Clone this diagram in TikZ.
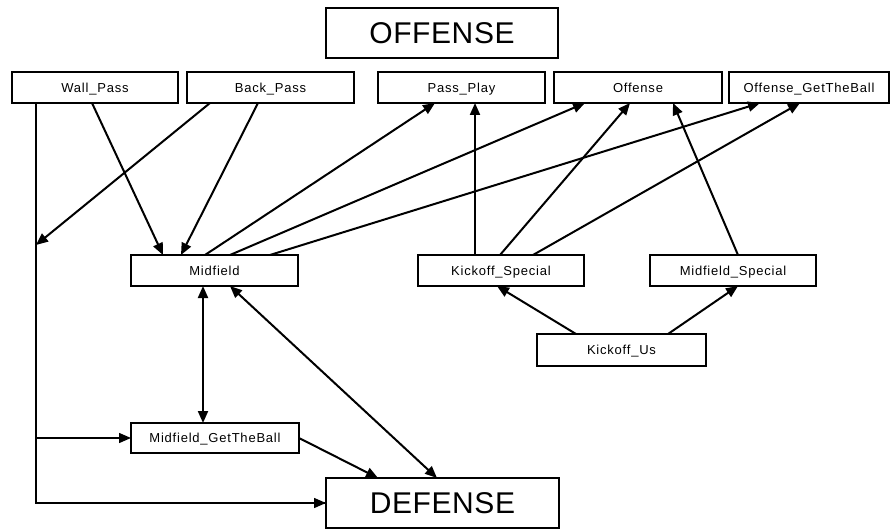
\documentclass[tikz,border=0pt]{standalone}
\usepackage{fontspec}
\setmainfont{Liberation Sans}
\newfontfamily\smallbox[LetterSpace=6]{Liberation Sans}
\newfontfamily\bigbox[LetterSpace=2]{Liberation Sans}
\usetikzlibrary{arrows.meta}
\begin{document}
\begin{tikzpicture}[x=1pt,y=-1pt,
  sbox/.style={draw,line width=2.6pt,inner sep=0pt,outer sep=0pt,text height=9.3pt,text depth=0pt,font=\smallbox\fontsize{13}{15}\selectfont},
  bbox/.style={draw,line width=2pt,inner sep=0pt,outer sep=0pt,text height=21.5pt,text depth=0pt,font=\bigbox\fontsize{30}{33}\selectfont},
  arr/.style={line width=2pt,-{Triangle[length=12pt,width=10pt]}},
  darr/.style={line width=2pt,{Triangle[length=12pt,width=10pt]}-{Triangle[length=12pt,width=10pt]}},
  thin/.style={line width=1.4pt},
  tarr/.style={line width=1.4pt,-{Triangle[length=12pt,width=10pt]}}
]
\useasboundingbox (0,0) rectangle (891,529);
% boxes: given by corners
\newcommand{\bx}[7]{\node[#1,minimum width={#5-#3},minimum height={#6-#4}] (#2) at ({(#3+#5)/2},{(#4+#6)/2}) {#7};}
\bx{bbox}{off}{326}{8}{558}{58}{OFFENSE}
\bx{sbox}{wp}{12}{72}{178}{103}{Wall\_Pass}
\bx{sbox}{bp}{187}{72}{354}{103}{Back\_Pass}
\bx{sbox}{pp}{378}{72}{545}{103}{Pass\_Play}
\bx{sbox}{o}{554}{72}{722}{103}{Offense}
\bx{sbox}{ogb}{729}{72}{889}{103}{Offense\_GetTheBall}
\bx{sbox}{mid}{131}{255}{298}{286}{Midfield}
\bx{sbox}{ks}{418}{255}{584}{286}{Kickoff\_Special}
\bx{sbox}{ms}{650}{255}{816}{286}{Midfield\_Special}
\bx{sbox}{ku}{537}{334}{706}{366}{Kickoff\_Us}
\bx{sbox}{mgb}{131}{423}{299}{453}{Midfield\_GetTheBall}
\bx{bbox}{def}{326}{478}{559}{528}{DEFENSE}

% Wall_Pass trunk
\coordinate (vl) at ([xshift=24pt]wp.south west);
\coordinate (bpEnd) at (36,245);
\draw[thin] (vl) |- (def.west);
\draw[tarr] (vl |- def.west) -- (def.west);
\draw[tarr] (vl |- mgb.west) -- (mgb.west);

\draw[arr] ([xshift=80pt]wp.south west) -- ([xshift=32pt]mid.north west);
\draw[arr] ([xshift=23pt]bp.south west) -- (bpEnd);
\draw[arr] ([xshift=71pt]bp.south west) -- ([xshift=50pt]mid.north west);
\draw[arr] ([xshift=74pt]mid.north west) -- ([xshift=57pt]pp.south west);
\draw[arr] ([xshift=99pt]mid.north west) -- ([xshift=31pt]o.south west);
\draw[arr] ([xshift=139pt]mid.north west) -- ([xshift=31pt]ogb.south west);
\draw[arr] ([xshift=57pt]ks.north west) -- ([xshift=97pt]pp.south west);
\draw[arr] ([xshift=82pt]ks.north west) -- ([xshift=76pt]o.south west);
\draw[arr] ([xshift=115pt]ks.north west) -- ([xshift=71pt]ogb.south west);
\draw[arr] ([xshift=88pt]ms.north west) -- ([xshift=119pt]o.south west);
\draw[arr] ([xshift=39pt]ku.north west) -- ([xshift=79pt]ks.south west);
\draw[arr] ([xshift=131pt]ku.north west) -- ([xshift=88pt]ms.south west);
\draw[darr] ([xshift=72pt]mid.south west) -- ([xshift=72pt]mgb.north west);
\draw[darr] ([xshift=99pt]mid.south west) -- ([xshift=111pt]def.north west);
\draw[arr] (mgb.east) -- ([xshift=52pt]def.north west);
\end{tikzpicture}
\end{document}
